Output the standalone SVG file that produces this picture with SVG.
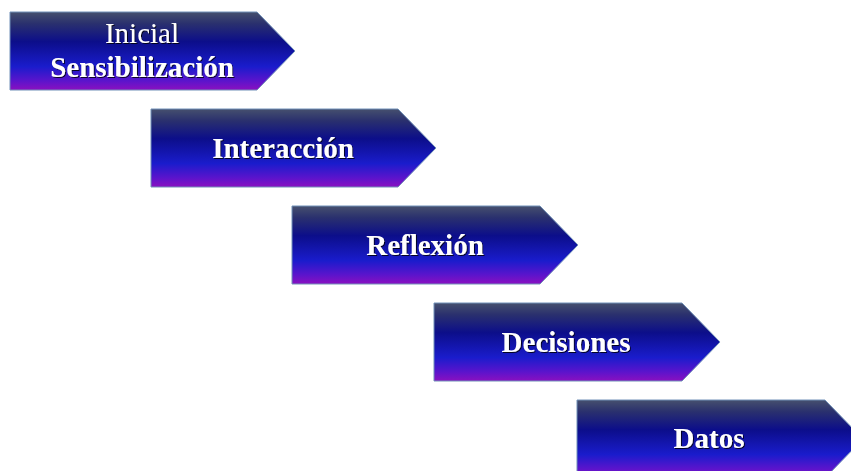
<svg xmlns="http://www.w3.org/2000/svg" width="851" height="471" viewBox="0 0 851 471">
<defs>
<linearGradient id="g" x1="0" y1="0" x2="0" y2="1">
<stop offset="0" stop-color="#46506e"/>
<stop offset="0.15" stop-color="#2a306e"/>
<stop offset="0.38" stop-color="#0c0e8a"/>
<stop offset="0.7" stop-color="#1a1ccc"/>
<stop offset="0.88" stop-color="#5a14cc"/>
<stop offset="1" stop-color="#8a10c0"/>
</linearGradient>
<filter id="sh" x="-10%" y="-20%" width="120%" height="150%">
<feDropShadow dx="1" dy="1" stdDeviation="0.6" flood-color="#000" flood-opacity="0.8"/>
</filter>
</defs>
<style>
.arrow{fill:url(#g);stroke:#7090b8;stroke-width:1}
.t{font-family:"Liberation Serif","Times New Roman",serif;font-size:29px;fill:#fff;text-anchor:middle;filter:url(#sh)}
.b{font-weight:bold}
</style>
<rect width="851" height="471" fill="#fff"/>
<g id="n1">
<path class="arrow" d="M10 12H257L295 51L257 90H10Z"/>
<text class="t" x="142" y="43">Inicial</text>
<text class="t b" x="142" y="77">Sensibilización</text>
</g>
<g id="n2">
<path class="arrow" d="M151 109H398L436 148L398 187H151Z"/>
<text class="t b" x="283" y="158">Interacción</text>
</g>
<g id="n3">
<path class="arrow" d="M292 206H540L578 245L540 284H292Z"/>
<text class="t b" x="425" y="255">Reflexión</text>
</g>
<g id="n4">
<path class="arrow" d="M434 303H682L720 342L682 381H434Z"/>
<text class="t b" x="566" y="352">Decisiones</text>
</g>
<g id="n5">
<path class="arrow" d="M577 400H825L863 439L825 478H577Z"/>
<text class="t b" x="709" y="448">Datos</text>
</g>
<g id="connectors"></g>
</svg>
